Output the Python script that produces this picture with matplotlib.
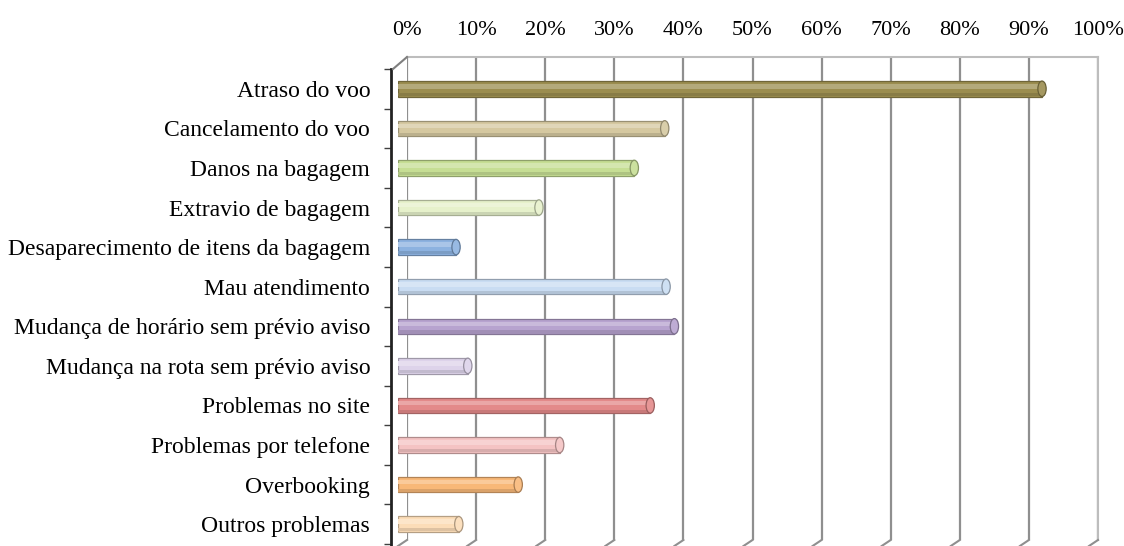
import numpy as np
import matplotlib
matplotlib.use("Agg")
import matplotlib.pyplot as plt
from matplotlib.lines import Line2D
from matplotlib.patches import Ellipse
from matplotlib.colors import to_rgb

plt.rcParams['font.family'] = ['Liberation Serif', 'DejaVu Serif']

# Data (percent of respondents)
categories = ["Atraso do voo", "Cancelamento do voo", "Danos na bagagem",
              "Extravio de bagagem", "Desaparecimento de itens da bagagem",
              "Mau atendimento", "Mudança de horário sem prévio aviso",
              "Mudança na rota sem prévio aviso", "Problemas no site",
              "Problemas por telefone", "Overbooking", "Outros problemas"]
values = [93.2, 38.6, 34.2, 20.4, 8.4, 38.8, 40.0, 10.1, 36.5, 23.4, 17.4, 8.8]
colors = ["#9B8D4F", "#D5C8A0", "#C6DE94", "#E6F1CB", "#8CB2E0", "#C9DCF2",
          "#B7A3CF", "#DDD3EA", "#E38A8A", "#F4C3C3", "#F8B878", "#FCDDB8"]
xticks = np.arange(0, 101, 10)
xtick_labels = [f"{t}%" for t in xticks]

W, H = 1124, 546


def rect(l, t, r, b):
    # pixel box (from top-left) -> figure fraction
    return [l / W, 1 - b / H, (r - l) / W, (b - t) / H]


def shade(c, f):
    r, g, b = to_rgb(c)
    if f < 1:
        return (r * f, g * f, b * f)
    f = f - 1
    return (r + (1 - r) * f, g + (1 - g) * f, b + (1 - b) * f)


fig = plt.figure(figsize=(W / 100, H / 100), dpi=100)

# back wall with gridlines and top labels
back = fig.add_axes(rect(407, 57, 1098, 540))
back.set_xlim(0, 100)
back.set_ylim(0, 1)
for t in xticks:
    back.axvline(t, color="#8F8F8F", lw=1.6, zorder=1)
for s in ["left", "bottom"]:
    back.spines[s].set_visible(False)
for s in ["top", "right"]:
    back.spines[s].set_color("#BDBDBD")
    back.spines[s].set_linewidth(1.5)
back.xaxis.tick_top()
back.set_xticks(xticks)
back.set_xticklabels(xtick_labels, fontsize=16)
back.tick_params(axis="x", length=0, pad=12)
back.set_yticks([])

# slanted floor segments of gridlines and top-left corner
for t in xticks:
    xb = 407 + t / 100 * 691
    fig.add_artist(Line2D([xb / W, (xb - 9) / W], [1 - 540 / H, 1 - 546 / H],
                          transform=fig.transFigure, color="#8F8F8F", lw=1.5))
fig.add_artist(Line2D([393 / W, 407 / W], [1 - 69 / H, 1 - 57 / H],
                      transform=fig.transFigure, color="#7F7F7F", lw=1.5))

# front axes with bars
ax = fig.add_axes(rect(398, 69, 1089, 544))
ax.patch.set_alpha(0)
y = np.arange(len(categories))
h = 0.39
ax.barh(y, values, height=h, color=colors,
        edgecolor=[shade(c, 0.72) for c in colors], linewidth=0.9, zorder=3)
ax.barh(y - h * 0.16, values, height=h * 0.3,
        color=[shade(c, 1.25) for c in colors], linewidth=0, zorder=4)
ax.barh(y + h * 0.37, values, height=h * 0.2,
        color=[shade(c, 0.88) for c in colors], linewidth=0, zorder=4)
for yi, v, c in zip(y, values, colors):
    ax.add_patch(Ellipse((v, yi), 1.2, h, facecolor=shade(c, 1.1),
                         edgecolor=shade(c, 0.68), lw=0.9, zorder=5))

ax.set_xlim(0, 100)
ax.set_ylim(len(categories) - 0.5, -0.5)
ax.set_xticks([])
ax.set_yticks(y)
ax.set_yticklabels(categories, fontsize=17)
ax.set_yticks(np.arange(len(categories) + 1) - 0.5, minor=True)
ax.tick_params(axis="y", which="major", length=0, pad=15, labelsize=17)
ax.tick_params(axis="y", which="minor", length=5, width=1, color="#404040")
for s in ["top", "right", "bottom"]:
    ax.spines[s].set_visible(False)
ax.spines["left"].set_position(("outward", 5))
ax.spines["left"].set_color("#222222")
ax.spines["left"].set_linewidth(2)
ax.spines["left"].set_bounds(-0.5, 11.6)

fig.savefig("out.png", dpi=100)
